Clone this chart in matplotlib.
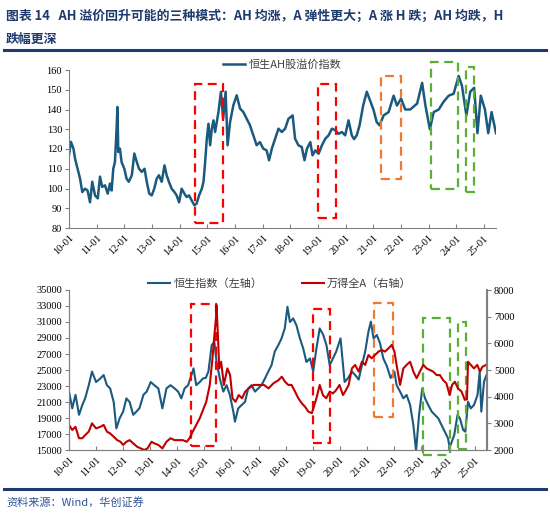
import matplotlib
matplotlib.use("Agg")
import matplotlib.pyplot as plt
from matplotlib.patches import Rectangle
from matplotlib.lines import Line2D

plt.rcParams['font.family'] = ['Noto Sans CJK SC', 'DejaVu Sans']

# ---- data (decimal years) ----
ah_x = [2010.00, 2010.07, 2010.16, 2010.22, 2010.31, 2010.40, 2010.48, 2010.58, 2010.67, 2010.76,
        2010.84, 2010.94, 2011.04, 2011.12, 2011.20, 2011.30, 2011.40, 2011.48, 2011.54, 2011.60,
        2011.66, 2011.72, 2011.75, 2011.78, 2011.84, 2011.90, 2012.00, 2012.08, 2012.16, 2012.27,
        2012.36, 2012.45, 2012.53, 2012.63, 2012.73, 2012.81, 2012.90, 2012.99, 2013.08, 2013.17,
        2013.25, 2013.35, 2013.45, 2013.53, 2013.61, 2013.71, 2013.81, 2013.89, 2013.98, 2014.07,
        2014.17, 2014.25, 2014.34, 2014.43, 2014.53, 2014.61, 2014.70, 2014.80, 2014.86, 2014.92,
        2014.98, 2015.04, 2015.10, 2015.16, 2015.22, 2015.28, 2015.40, 2015.49, 2015.57, 2015.66,
        2015.73, 2015.82, 2015.94, 2016.06, 2016.18, 2016.30, 2016.42, 2016.54, 2016.66, 2016.78,
        2016.90, 2017.02, 2017.14, 2017.23, 2017.33, 2017.45, 2017.57, 2017.69, 2017.81, 2017.93,
        2018.08, 2018.17, 2018.29, 2018.41, 2018.51, 2018.60, 2018.72, 2018.80, 2018.90, 2019.02,
        2019.14, 2019.26, 2019.38, 2019.50, 2019.62, 2019.74, 2019.86, 2019.98, 2020.10, 2020.22,
        2020.30, 2020.40, 2020.50, 2020.63, 2020.76, 2020.88, 2021.00, 2021.12, 2021.22, 2021.37,
        2021.55, 2021.73, 2021.85, 2022.00, 2022.15, 2022.33, 2022.58, 2022.76, 2022.88, 2023.04,
        2023.18, 2023.36, 2023.54, 2023.72, 2023.90, 2024.08, 2024.20, 2024.36, 2024.50, 2024.64,
        2024.76, 2024.88, 2025.03, 2025.15, 2025.27, 2025.43]
ah_premium = [117, 123.6, 120.2, 115, 110, 105, 98.2, 99.9, 99, 93,
              103.4, 96.5, 95, 106, 100.8, 101.6, 97.4, 102.5, 99, 110,
              113.4, 130.3, 141.3, 118.5, 120.2, 113.4, 110, 105, 103.4, 106.7,
              117.7, 113.4, 110, 108.4, 110, 103.4, 97.4, 96.5, 99.9, 105,
              106.7, 103.4, 111.7, 106.7, 103.4, 99.9, 98.2, 96.5, 93, 99.9,
              97.4, 95.7, 96.5, 94, 91.5, 92.3, 96.5, 99.9, 103.4, 113.4,
              125.2, 132.8, 121.9, 130.3, 134.5, 128.6, 138.7, 149, 135.3, 149,
              121.9, 133.6, 142.2, 147.2, 140.5, 138.7, 135.3, 132, 126.9, 121.9,
              123.5, 120.2, 119.3, 114.3, 120.2, 125.2, 130.3, 128.6, 130.3, 135.3,
              137, 125.2, 121.9, 121, 114.3, 120.2, 123.5, 116.8, 119.3, 117.6,
              121.9, 125.2, 126.9, 130.3, 129.5, 127.7, 128.6, 126.9, 134.5, 126.9,
              125, 127, 132, 142, 149, 144.5, 140, 133.6, 132, 137,
              138.7, 147, 142, 145.5, 140, 140, 143, 153.5, 142, 130,
              138.7, 140, 144, 147, 148, 157, 152, 137, 149, 151,
              128, 147, 140, 128, 138.7, 128]

hsi_x = [2010.00, 2010.12, 2010.24, 2010.37, 2010.49, 2010.60, 2010.73, 2010.85, 2011.00, 2011.16,
         2011.28, 2011.40, 2011.52, 2011.65, 2011.75, 2011.87, 2012.00, 2012.12, 2012.24, 2012.37,
         2012.49, 2012.60, 2012.75, 2012.87, 2013.02, 2013.15, 2013.30, 2013.45, 2013.60, 2013.75,
         2013.90, 2014.03, 2014.15, 2014.27, 2014.40, 2014.52, 2014.60, 2014.70, 2014.83, 2014.95,
         2015.05, 2015.15, 2015.27, 2015.37, 2015.45, 2015.57, 2015.70, 2015.82, 2015.94, 2016.07,
         2016.13, 2016.25, 2016.37, 2016.50, 2016.62, 2016.74, 2016.87, 2016.99, 2017.11, 2017.24,
         2017.36, 2017.48, 2017.60, 2017.73, 2017.85, 2017.97, 2018.07, 2018.16, 2018.28, 2018.40,
         2018.53, 2018.65, 2018.77, 2018.90, 2019.02, 2019.14, 2019.26, 2019.39, 2019.51, 2019.63,
         2019.75, 2019.87, 2020.03, 2020.18, 2020.30, 2020.45, 2020.57, 2020.70, 2020.82, 2020.94,
         2021.06, 2021.15, 2021.25, 2021.37, 2021.49, 2021.61, 2021.74, 2021.88, 2022.02, 2022.10,
         2022.23, 2022.35, 2022.47, 2022.60, 2022.72, 2022.82, 2022.93, 2023.05, 2023.15, 2023.27,
         2023.40, 2023.52, 2023.64, 2023.76, 2023.88, 2024.00, 2024.06, 2024.23, 2024.35, 2024.44,
         2024.56, 2024.64, 2024.74, 2024.84, 2024.96, 2025.09, 2025.17, 2025.23, 2025.33, 2025.42]
hsi = [22300, 20200, 21900, 19400, 20600, 21500, 23100, 24800, 23500, 23950,
       24370, 23100, 22700, 21000, 17700, 18950, 19800, 21450, 21000, 19400,
       19800, 20200, 21900, 22300, 23500, 23100, 22700, 20200, 22700, 23100,
       22700, 22300, 21450, 22700, 23100, 24370, 25200, 23100, 23500, 23950,
       24000, 24800, 28100, 28500, 26000, 23950, 22300, 23100, 21900, 19800,
       18540, 20200, 20600, 21000, 22700, 23100, 22300, 22700, 23100, 23950,
       24800, 25600, 27300, 28100, 28950, 30200, 32900, 31000, 31450, 30600,
       28950, 27700, 26000, 26450, 24800, 27700, 30200, 29400, 28100, 25600,
       26450, 27300, 28950, 23500, 23950, 24800, 24375, 23800, 25625, 27290,
       29790, 31040, 28950, 29375, 28330, 26450, 25500, 24000, 24790, 23125,
       22290, 21460, 21875, 20625, 18125, 14900, 19375, 22700, 21460, 20625,
       19790, 19375, 18960, 18125, 17290, 16460, 15300, 16875, 19375, 18960,
       17500, 17290, 21040, 20200, 20625, 21875, 24790, 19790, 23540, 24375]

wind_x = [2010.00, 2010.12, 2010.24, 2010.37, 2010.49, 2010.60, 2010.73, 2010.85, 2011.00, 2011.16,
          2011.28, 2011.40, 2011.52, 2011.65, 2011.78, 2011.90, 2012.00, 2012.12, 2012.24, 2012.37,
          2012.52, 2012.65, 2012.78, 2012.90, 2013.05, 2013.15, 2013.30, 2013.45, 2013.60, 2013.75,
          2013.90, 2014.03, 2014.20, 2014.35, 2014.45, 2014.57, 2014.70, 2014.83, 2014.95, 2015.07,
          2015.20, 2015.30, 2015.37, 2015.43, 2015.45, 2015.50, 2015.55, 2015.62, 2015.72, 2015.85,
          2015.95, 2016.04, 2016.15, 2016.27, 2016.39, 2016.51, 2016.64, 2016.82, 2017.00, 2017.20,
          2017.37, 2017.55, 2017.74, 2017.86, 2017.98, 2018.10, 2018.22, 2018.35, 2018.47, 2018.60,
          2018.72, 2018.84, 2018.97, 2019.14, 2019.26, 2019.38, 2019.50, 2019.63, 2019.75, 2019.87,
          2019.99, 2020.12, 2020.20, 2020.33, 2020.45, 2020.57, 2020.70, 2020.82, 2020.94, 2021.06,
          2021.18, 2021.30, 2021.43, 2021.55, 2021.67, 2021.80, 2021.92, 2022.02, 2022.10, 2022.23,
          2022.35, 2022.47, 2022.60, 2022.72, 2022.84, 2022.96, 2023.09, 2023.21, 2023.33, 2023.45,
          2023.58, 2023.70, 2023.82, 2023.94, 2024.06, 2024.15, 2024.25, 2024.37, 2024.50, 2024.62,
          2024.70, 2024.74, 2024.84, 2024.96, 2025.08, 2025.18, 2025.27, 2025.40]
wind_a = [2940, 2750, 2870, 2440, 2440, 2560, 2690, 3000, 2810, 2870,
          2940, 2690, 2620, 2500, 2370, 2310, 2190, 2310, 2370, 2250,
          2120, 2060, 2000, 2060, 2310, 2250, 2190, 2060, 2310, 2440,
          2370, 2370, 2370, 2310, 2440, 2690, 2940, 3190, 3500, 3810,
          4440, 5440, 6310, 6940, 7440, 6310, 5060, 5310, 4440, 5060,
          4810, 3940, 3810, 4060, 3940, 4190, 4310, 4440, 4440, 4440,
          4310, 4500, 4620, 4750, 4560, 4440, 4440, 4190, 3940, 3750,
          3620, 3440, 3380, 3940, 4440, 4060, 3940, 4190, 4120, 4250,
          4440, 4060, 4190, 4440, 5060, 5190, 4940, 5310, 5190, 5560,
          5440, 5560, 5690, 5750, 5690, 5810, 5940, 5690, 5190, 4440,
          5060, 5190, 5310, 4940, 4690, 4940, 5190, 5060, 5000, 4940,
          4810, 4810, 4620, 4500, 4060, 4440, 4560, 4310, 4190, 3880,
          3900, 5310, 5190, 5060, 5190, 4940, 5120, 5190]

years = list(range(2010, 2026))
year_labels = ['%02d-01' % (y % 100) for y in years]

# boxes: (x0, x1, y0, y1, colour)
top_boxes = [(2014.55, 2015.57, 82.5, 152.9, '#FF0000'),
             (2019.00, 2019.65, 85.1, 152.9, '#FF0000'),
             (2021.28, 2022.00, 104.8, 157.1, '#F07830'),
             (2023.08, 2024.06, 99.7, 164.0, '#5BAF32'),
             (2024.35, 2024.64, 98.4, 161.7, '#5BAF32')]
bot_boxes = [(2014.50, 2015.43, 15500, 33212, '#FF0000'),
             (2019.03, 2019.64, 15912, 32590, '#FF0000'),
             (2021.27, 2021.98, 19088, 33340, '#F07830'),
             (2023.07, 2024.07, 14375, 31540, '#5BAF32'),
             (2024.36, 2024.65, 15090, 30960, '#5BAF32')]

blue = '#1B5A7E'
red = '#C00000'
navy = '#1F3A6E'
spine_c = '#808080'
tick_font = {'family': 'Liberation Serif', 'size': 7.5}

W, H = 550, 523
fig = plt.figure(figsize=(5.5, 5.23), dpi=100)

def fx(px):
    return px / W

def fy(py):
    return 1 - py / H

# title and rules
fig.text(fx(6), fy(16), '图表 14   AH 溢价回升可能的三种模式：AH 均涨，A 弹性更大；A 涨 H 跌；AH 均跌，H',
         fontsize=9.3, fontweight='bold', color=navy, va='center', ha='left')
fig.text(fx(6), fy(39), '跌幅更深', fontsize=9.3, fontweight='bold', color=navy, va='center', ha='left')
fig.add_artist(Line2D([fx(4), fx(546)], [fy(49.5), fy(49.5)], color=navy, lw=2.2))
fig.add_artist(Line2D([fx(4), fx(546)], [fy(489), fy(489)], color=navy, lw=2.2))
fig.text(fx(6), fy(502), '资料来源：Wind，华创证券', fontsize=8, color='#2F5597',
         style='italic', va='center', ha='left')


def style_x(ax):
    ax.set_xticks(years)
    ax.set_xticklabels(year_labels, rotation=45, ha='right', va='top',
                       rotation_mode='anchor', fontdict=tick_font)
    ax.tick_params(axis='x', direction='in', length=3, color=spine_c, pad=4)
    ax.tick_params(axis='y', direction='out', length=3, color=spine_c, pad=2)


# ---- top chart ----
ax1 = fig.add_axes([fx(69), fy(228), fx(496 - 69), fy(70) - fy(228)])
ax1.plot(ah_x, ah_premium, color=blue, lw=1.8, label='恒生AH股溢价指数')
ax1.set_xlim(2010.0, 2025.43)
ax1.set_ylim(80, 160)
ax1.set_yticks(range(80, 161, 10))
ax1.set_yticklabels([str(v) for v in range(80, 161, 10)], fontdict=tick_font)
style_x(ax1)
for s in ['top', 'right']:
    ax1.spines[s].set_visible(False)
for s in ['left', 'bottom']:
    ax1.spines[s].set_color(spine_c)
for x0, x1, y0, y1, c in top_boxes:
    ax1.add_patch(Rectangle((x0, y0), x1 - x0, y1 - y0, fill=False, edgecolor=c,
                            lw=1.6, linestyle=(0, (4, 2.5)), clip_on=False, zorder=5))
fig.legend(handles=ax1.get_lines(), loc='center', bbox_to_anchor=(fx(282), fy(65)),
           frameon=False, fontsize=8, handlelength=2.0, handletextpad=0.3,
           borderpad=0, labelcolor='#404040')

# ---- bottom chart ----
ax2 = fig.add_axes([fx(69), fy(450), fx(487 - 69), fy(290) - fy(450)])
l1, = ax2.plot(hsi_x, hsi, color=blue, lw=1.5, label='恒生指数（左轴）')
ax2.set_xlim(2010.0, 2025.44)
ax2.set_ylim(15000, 35000)
ax2.set_yticks(range(15000, 35001, 2000))
ax2.set_yticklabels([str(v) for v in range(15000, 35001, 2000)], fontdict=tick_font)
style_x(ax2)
ax2.spines['top'].set_visible(False)
for s in ['left', 'bottom', 'right']:
    ax2.spines[s].set_color(spine_c)
for x0, x1, y0, y1, c in bot_boxes:
    ax2.add_patch(Rectangle((x0, y0), x1 - x0, y1 - y0, fill=False, edgecolor=c,
                            lw=1.6, linestyle=(0, (4, 2.5)), clip_on=False, zorder=5))

ax3 = ax2.twinx()
l2, = ax3.plot(wind_x, wind_a, color=red, lw=1.5, label='万得全A（右轴）')
ax3.set_ylim(2000, 8000)
ax3.set_yticks(range(2000, 8001, 1000))
ax3.set_yticklabels([str(v) for v in range(2000, 8001, 1000)], fontdict=tick_font)
ax3.tick_params(axis='y', direction='out', length=3, color=spine_c, pad=2)
ax3.spines['top'].set_visible(False)
for s in ['left', 'bottom', 'right']:
    ax3.spines[s].set_color(spine_c)
ax3.spines['right'].set_linewidth(1.5)

fig.legend(handles=[l1, l2], loc='center', bbox_to_anchor=(fx(280), fy(284)),
           ncol=2, frameon=False, fontsize=8, handlelength=2.0, handletextpad=0.3,
           columnspacing=3.5, borderpad=0, labelcolor='#404040')

fig.savefig('out.png', dpi=100)
